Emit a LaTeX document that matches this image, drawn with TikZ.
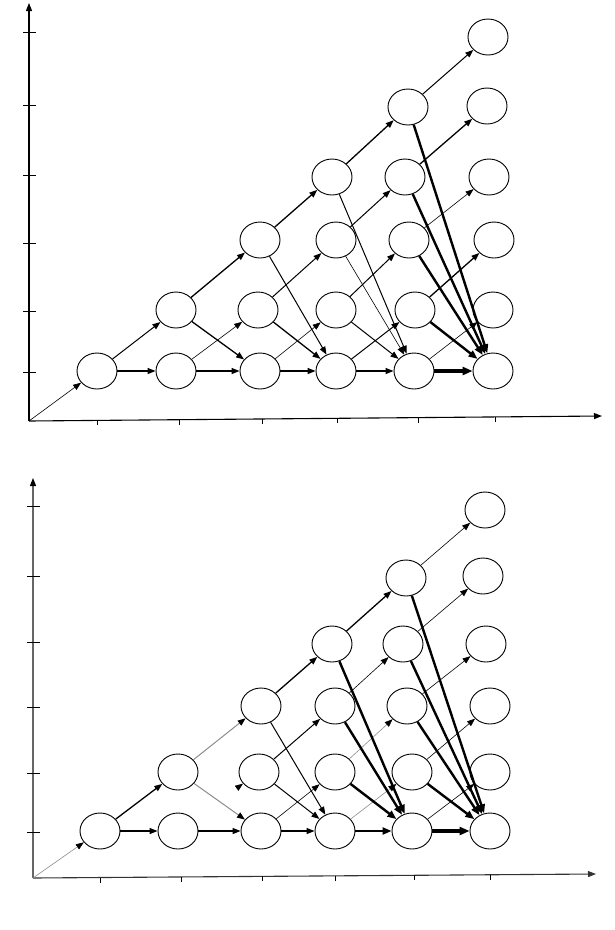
\documentclass[tikz,border=0pt]{standalone}
\usetikzlibrary{shapes.geometric,arrows.meta}
\tikzset{
  st/.style={ellipse, draw, line width=0.9pt, minimum width=40pt, minimum height=36pt, inner sep=0pt},
  ar/.style={-{Triangle[length=8pt,width=6pt]}},
  arh/.style={-{Triangle[length=10pt,width=8pt]}},
  ethin/.style={ar, line width=0.6pt},
  enorm/.style={ar, line width=1pt},
  emed/.style={ar, line width=1.3pt},
  ebold/.style={-{Triangle[length=9pt,width=7pt]}, line width=2.4pt},
  eheavy/.style={arh, line width=4pt},
  egray/.style={draw=black!45, -{Triangle[length=8pt,width=6pt,black]}},
  axis/.style={line width=1.1pt, -{Triangle[length=8pt,width=6pt]}},
  tick/.style={line width=0.9pt}
}
\begin{document}
\begin{tikzpicture}[x=1pt,y=-1pt]
\useasboundingbox (0,0) rectangle (614,930);

% ================= TOP DIAGRAM =================
\coordinate (TO) at (29,421);
\coordinate (TY) at (29,3);
\coordinate (TX) at (602,416);
\draw[axis] (TO) -- (TY);
\draw[axis] (TO) -- (TX);
\foreach \y in {32,105,175,243,311,372} \draw[tick] (23,\y) -- (36,\y);
\foreach \x/\y in {97/420.4,179/419.7,262/419,337/418.3,418/417.6,495/416.9} \draw[tick] (\x,\y) -- (\x,\y+5);

\node[st] (T11) at (97,371) {};
\node[st] (T21) at (176,371) {};
\node[st] (T31) at (260,371) {};
\node[st] (T41) at (336,371) {};
\node[st] (T51) at (414,371) {};
\node[st] (T61) at (493,371) {};
\node[st] (T22) at (176,310) {};
\node[st] (T32) at (258,310) {};
\node[st] (T42) at (336,310) {};
\node[st] (T52) at (415,310) {};
\node[st] (T62) at (493,310) {};
\node[st] (T33) at (260,240) {};
\node[st] (T43) at (336,240) {};
\node[st] (T53) at (409,240) {};
\node[st] (T63) at (494,240) {};
\node[st] (T44) at (332,177) {};
\node[st] (T54) at (405,177) {};
\node[st] (T64) at (489,177) {};
\node[st] (T55) at (408,107) {};
\node[st] (T65) at (487,106) {};
\node[st] (T66) at (488,37) {};

% horizontal
\draw[emed] (T11) -- (T21);
\draw[emed] (T21) -- (T31);
\draw[emed] (T31) -- (T41);
\draw[emed] (T41) -- (T51);
\draw[eheavy] (T51) -- (T61);
% diagonals up
\draw[ethin] (TO) -- (T11);
\draw[enorm] (T11) -- (T22);
\draw[emed] (T22) -- (T33);
\draw[emed] (T33) -- (T44);
\draw[emed] (T44) -- (T55);
\draw[enorm] (T55) -- (T66);
\draw[ethin] (T21) -- (T32);
\draw[enorm] (T32) -- (T43);
\draw[enorm] (T43) -- (T54);
\draw[emed] (T54) -- (T65);
\draw[ethin] (T31) -- (T42);
\draw[enorm] (T42) -- (T53);
\draw[ethin] (T53) -- (T64);
\draw[enorm] (T41) -- (T52);
\draw[emed] (T52) -- (T63);
\draw[ethin] (T51) -- (T62);
% down
\draw[emed] (T22) -- (T31);
\draw[emed] (T32) -- (T41);
\draw[enorm] (T33) -- (T41);
\draw[enorm] (T42) -- (T51);
\draw[ethin] (T43) -- (T51);
\draw[enorm] (T44) -- (T51);
\draw[ebold] (T52) -- (T61);
\draw[ebold] (T53) -- (T61);
\draw[ebold] (T54) -- (T61);
\draw[ebold] (T55) -- (T61);

% ================= BOTTOM DIAGRAM =================
\coordinate (BO) at (33,878);
\coordinate (BY) at (33,478);
\coordinate (BX) at (596,874);
\draw[axis, draw=black!60, -{Triangle[length=8pt,width=6pt,black]}] (BO) -- (BY);
\draw[axis, draw=black!80] (BO) -- (BX);
\foreach \y in {506,576,642,707,773,832} \draw[tick] (27,\y) -- (40,\y);
\foreach \x/\y in {100/877.5,181/877,262/876.4,335/875.9,414/875.3,490/874.8} \draw[tick] (\x,\y) -- (\x,\y+5);

\node[st] (B11) at (100,831) {};
\node[st] (B21) at (178,831) {};
\node[st] (B31) at (261,831) {};
\node[st] (B41) at (335,831) {};
\node[st] (B51) at (412,831) {};
\node[st] (B61) at (490,831) {};
\node[st] (B22) at (178,772) {};
\node[st] (B32) at (259,772) {};
\node[st] (B42) at (335,772) {};
\node[st] (B52) at (412,772) {};
\node[st] (B62) at (490,772) {};
\node[st] (B33) at (261,706) {};
\node[st] (B43) at (335,706) {};
\node[st] (B53) at (407,706) {};
\node[st] (B63) at (490,706) {};
\node[st] (B44) at (332,644) {};
\node[st] (B54) at (403,644) {};
\node[st] (B64) at (486,644) {};
\node[st] (B55) at (406,578) {};
\node[st] (B65) at (483,576) {};
\node[st] (B66) at (485,510) {};

% horizontal
\draw[emed] (B11) -- (B21);
\draw[emed] (B21) -- (B31);
\draw[emed] (B31) -- (B41);
\draw[ebold] (B41) -- (B51);
\draw[eheavy] (B51) -- (B61);
% diagonals up
\draw[ethin, egray] (BO) -- (B11);
\draw[emed] (B11) -- (B22);
\draw[enorm, egray] (B22) -- (B33);
\draw[emed] (B33) -- (B44);
\draw[emed] (B44) -- (B55);
\draw[ethin] (B55) -- (B66);
\draw[enorm, shorten <=54pt] (B21) -- (B32);
\draw[enorm] (B32) -- (B43);
\draw[ethin] (B43) -- (B54);
\draw[ethin] (B54) -- (B65);
\draw[ethin] (B31) -- (B42);
\draw[ethin, egray] (B42) -- (B53);
\draw[ethin] (B53) -- (B64);
\draw[ethin, egray] (B41) -- (B52);
\draw[ethin] (B52) -- (B63);
\draw[ethin] (B51) -- (B62);
% down
\draw[enorm, egray] (B22) -- (B31);
\draw[enorm] (B32) -- (B41);
\draw[enorm] (B33) -- (B41);
\draw[ebold] (B42) -- (B51);
\draw[ebold] (B43) -- (B51);
\draw[ebold] (B44) -- (B51);
\draw[ebold] (B52) -- (B61);
\draw[ebold] (B53) -- (B61);
\draw[ebold] (B54) -- (B61);
\draw[ebold] (B55) -- (B61);
\end{tikzpicture}
\end{document}
